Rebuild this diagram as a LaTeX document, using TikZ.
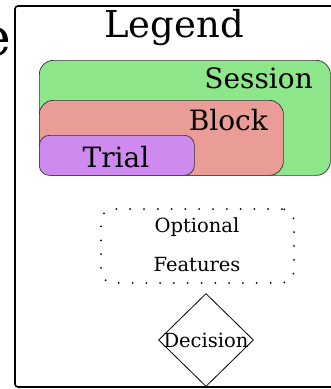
\documentclass[tikz,border=0pt]{standalone}
\usepackage{fontspec}
\setmainfont{DejaVu Serif}
\usetikzlibrary{shapes.geometric}

\begin{document}
\begin{tikzpicture}
[x=1pt,y=-1pt]
\tikzset{lvl/.style={draw=black!80,line width=.7pt,rounded corners=14pt,anchor=north west,inner sep=0pt}}
\tikzset{lbl/.style={inner sep=0pt,font=\fontsize{28}{30}\selectfont}}
\tikzset{small/.style={inner sep=0pt,font=\fontsize{19.5}{22}\selectfont}}
\definecolor{sessgreen}{HTML}{8EE68A}
\definecolor{blockred}{HTML}{EA9C96}
\definecolor{trialpurple}{HTML}{CE8AEE}
\useasboundingbox (0,0) rectangle (330,389);
\node [inner sep=0pt,anchor=base east,font=\fontsize{52}{56}\selectfont] (cut) at (11,55) {e};
\draw [line width=1.6pt,rounded corners=3pt] (15,6) rectangle (350,387);
\node [inner sep=0pt,anchor=base,font=\fontsize{37}{40}\selectfont] (legend) at (174,37) {Legend};
% nested levels
\node [lvl,fill=sessgreen,minimum width=291pt,minimum height=115pt] (session) at (39,60) {};
\node [lvl,fill=blockred,minimum width=244pt,minimum height=75pt] (block) at (39,100) {};
\node [lvl,fill=trialpurple,rounded corners=10pt,minimum width=155pt,minimum height=40pt] (trial) at (39,135) {};
\node [lbl,anchor=base east] (sesstxt) at (313,88) {Session};
\node [lbl,anchor=base east] (blocktxt) at (268,130) {Block};
\node [lbl,anchor=base] (trialtxt) at (116,167) {Trial};
% optional
\node [draw,line width=2pt,line cap=round,dash pattern=on 0pt off 13.8pt,rounded corners=12pt,anchor=north west,minimum width=193pt,minimum height=74pt] (opt) at (100,208) {};
\node [small,anchor=base] (opttxt) at (197,232) {Optional};
\node [small,anchor=base] (feattxt) at (197,271) {Features};
% decision
\node [draw,diamond,line width=.8pt,inner sep=0pt,minimum width=95pt,minimum height=93pt] (dec) at (206,340) {};
\node [small,anchor=base] (dectxt) at (206,347) {Decision};
\end{tikzpicture}
\end{document}
